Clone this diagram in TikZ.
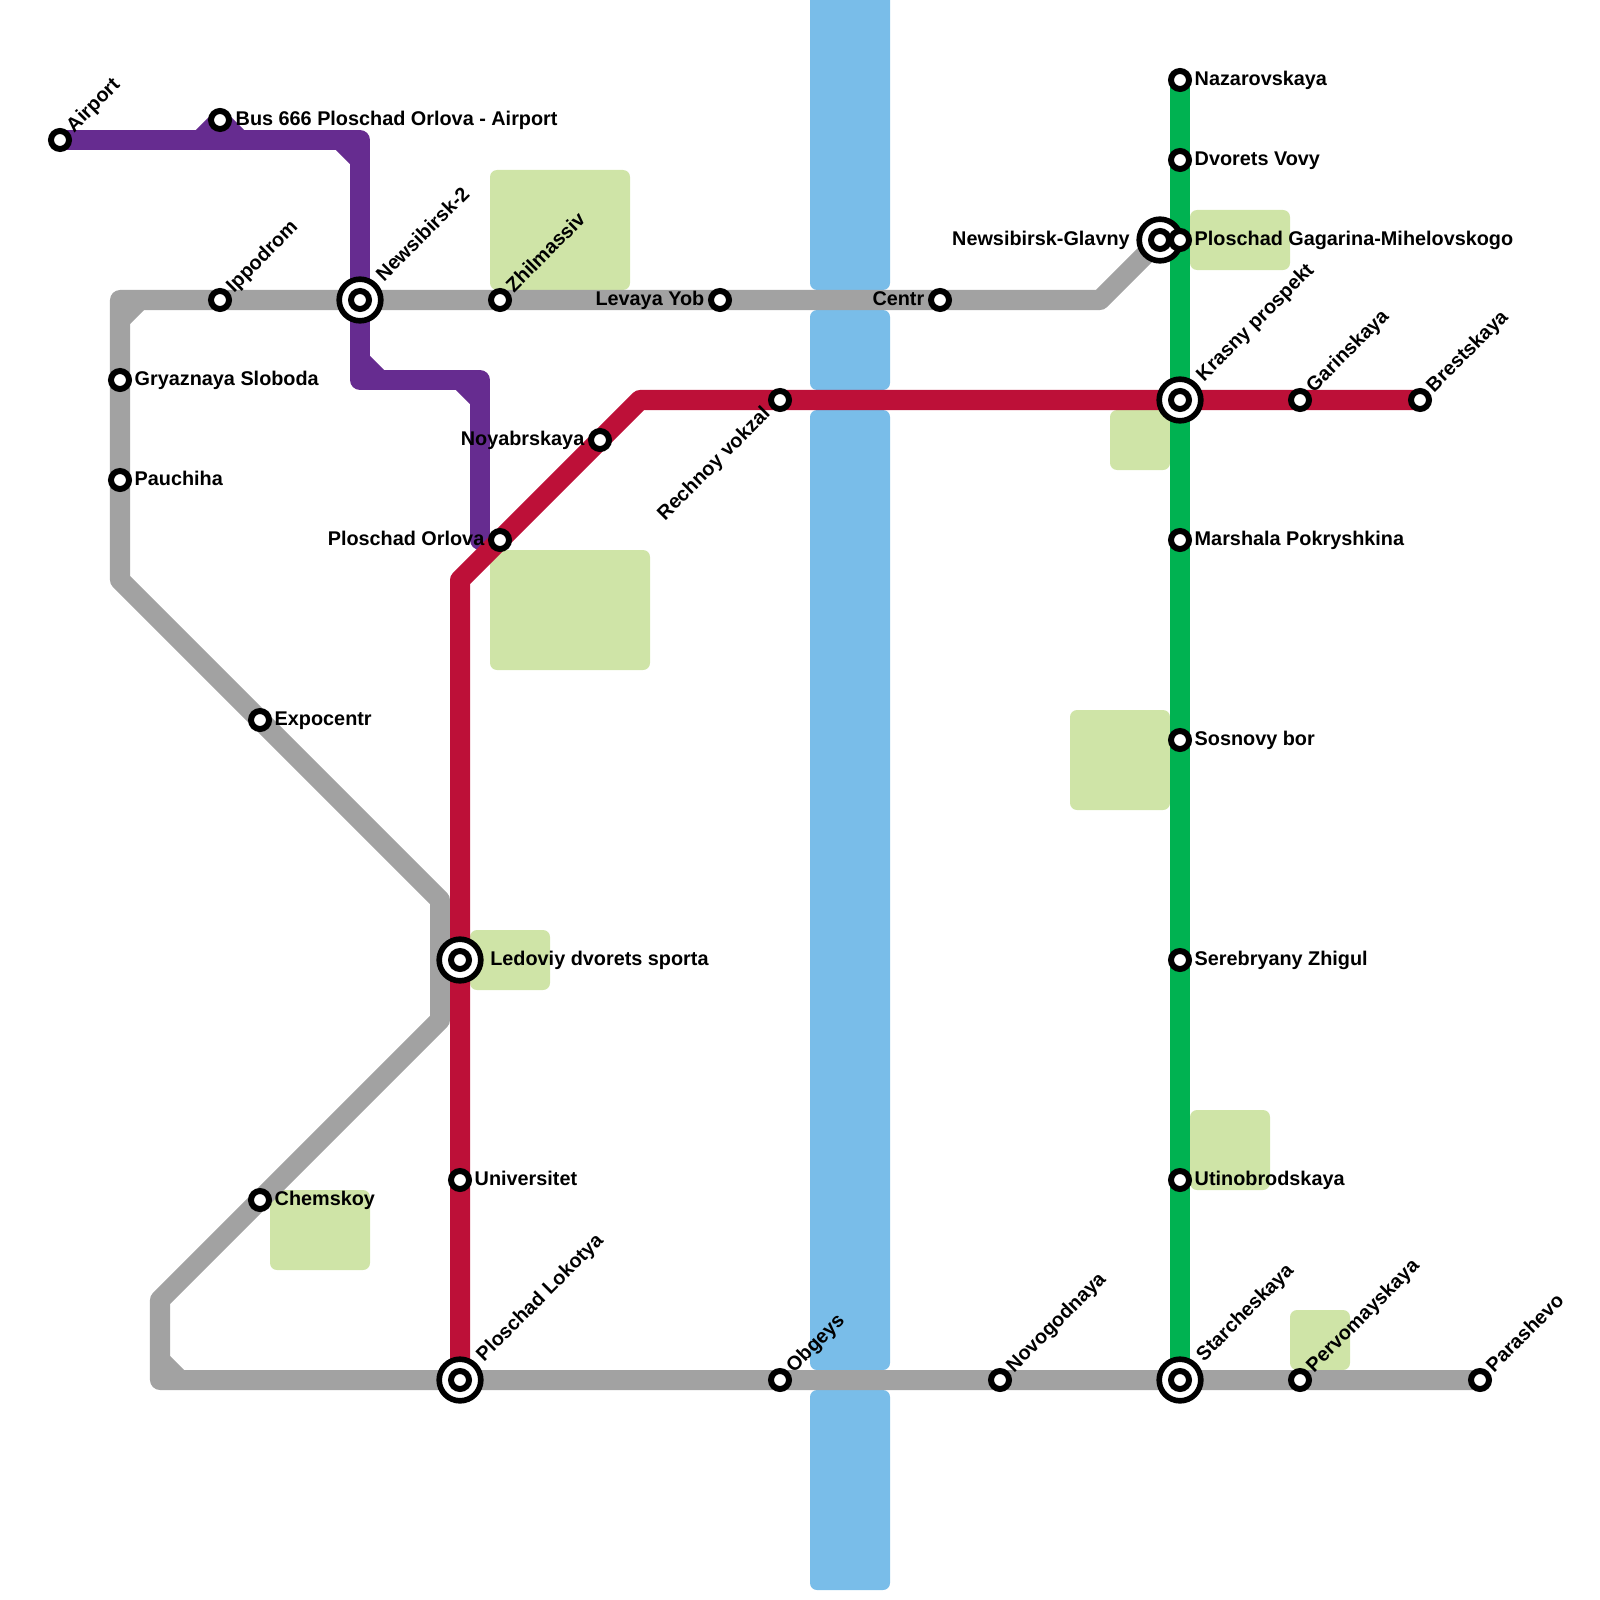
\documentclass[tikz,border=0pt]{standalone}
\usepackage{fontspec}
\setmainfont{Liberation Sans}
\usepackage{xcolor}
\usetikzlibrary{positioning,backgrounds}
\definecolor{linepurple}{HTML}{662C90}
\definecolor{linegrey}{HTML}{A2A2A2}
\definecolor{linered}{HTML}{BD1038}
\definecolor{linegreen}{HTML}{00B251}
\definecolor{riverblue}{HTML}{79BDE9}
\definecolor{parkgreen}{HTML}{CFE4A7}

\begin{document}
\begin{tikzpicture}[x=0.01cm,y=-0.01cm,
  stn/.style={draw,circle,fill=white,line width=1.7pt,inner sep=0pt,minimum size=0.18cm},
  hub/.style={draw,circle,fill=white,line width=1.6pt,inner sep=0pt,minimum size=0.416cm},
  metro/.style={line width=0.2cm,line join=round,line cap=round},
  river/.style={fill=riverblue,rounded corners=0.07cm},
  park/.style={fill=parkgreen,rounded corners=0.07cm},
  lab/.style={inner sep=0pt,text height=0.14cm,text depth=0.04cm,font=\fontsize{5.64}{6}\selectfont\bfseries},
  diag/.style={lab,rotate=45,anchor=west}]
\useasboundingbox (0,0) rectangle (1600,1600);

% purple
\node[stn](airport) at (60,140){};
\node[stn](bus) at (220,120){};
% grey
\node[stn](ippodrom) at (220,300){};
\node[hub](newsib) at (360,300){}; \node[stn](newsibin) at (newsib){};
\node[stn](zhil) at (500,300){};
\node[stn](levaya) at (720,300){};
\node[stn](centr) at (940,300){};
\node[hub](glavny) at (1160,240){}; \node[stn](glavnyin) at (glavny){};
\node[stn](gryaz) at (120,380){};
\node[stn](pauch) at (120,480){};
\node[stn](expo) at (260,720){};
\node[stn](chem) at (260,1200){};
\node[stn](obgeys) at (780,1380){};
\node[stn](novogod) at (1000,1380){};
\node[stn](perv) at (1300,1380){};
\node[stn](parash) at (1480,1380){};
% red
\node[stn](orlova) at (500,540){};
\node[stn](noyabr) at (600,440){};
\node[stn](rechnoy) at (780,400){};
\node[hub](ledov) at (460,960){}; \node[stn](ledovin) at (ledov){};
\node[stn](univer) at (460,1180){};
\node[hub](lokot) at (460,1380){}; \node[stn](lokotin) at (lokot){};
\node[hub](krasny) at (1180,400){}; \node[stn](krasnyin) at (krasny){};
\node[stn](garin) at (1300,400){};
\node[stn](brest) at (1420,400){};
% green
\node[stn](nazar) at (1180,80){};
\node[stn](dvor) at (1180,160){};
\node[stn](gagar) at (1180,240){};
\node[stn](marsh) at (1180,540){};
\node[stn](sosn) at (1180,740){};
\node[stn](sereb) at (1180,960){};
\node[stn](utino) at (1180,1180){};
\node[hub](starch) at (1180,1380){}; \node[stn](starchin) at (starch){};

\begin{pgfonlayer}{background}
% river
\path[river] (810,-20) rectangle (890,290);
\path[river] (810,310) rectangle (890,390);
\path[river] (810,410) rectangle (890,1370);
\path[river] (810,1390) rectangle (890,1590);
% parks
\path[park] (490,170) rectangle (630,290);
\path[park] (1190,210) rectangle (1290,270);
\path[park] (1110,410) rectangle (1170,470);
\path[park] (490,550) rectangle (650,670);
\path[park] (1070,710) rectangle (1170,810);
\path[park] (470,930) rectangle (550,990);
\path[park] (1190,1110) rectangle (1270,1190);
\path[park] (270,1190) rectangle (370,1270);
\path[park] (1290,1310) rectangle (1350,1370);
% lines
\coordinate (p1) at (200,140); \coordinate (p2) at (240,140);
\coordinate (p3) at (360,140); \coordinate (p4) at (360,380);
\coordinate (p5) at (480,380); \coordinate (p6) at (480,540);
\draw[metro,linepurple](airport.center)--(p3)--(newsib.center)--(p4)--(p5)--(p6);
\draw[metro,linepurple](p1)--(bus.center)--(p2);
\draw[metro,line cap=butt,linepurple](340,140)--(360,160);
\draw[metro,line cap=butt,linepurple](360,360)--(380,380);
\draw[metro,line cap=butt,linepurple](460,380)--(480,400);

\coordinate (g1) at (1100,300); \coordinate (g2) at (120,300);
\coordinate (g3) at (120,580); \coordinate (g4) at (440,900);
\coordinate (g5) at (440,1020); \coordinate (g6) at (160,1300);
\coordinate (g7) at (160,1380);
\draw[metro,linegrey](glavny.center)--(g1)--(g2)--(g3)--(g4)--(g5)--(g6)--(g7)--(parash.center);
\draw[metro,line cap=butt,linegrey](140,300)--(120,320);
\draw[metro,line cap=butt,linegrey](160,1360)--(180,1380);

\draw[metro,linegreen](nazar.center)--(starch.center);

\coordinate (r1) at (460,580); \coordinate (r2) at (640,400);
\draw[metro,linered](lokot.center)--(r1)--(r2)--(brest.center);
\end{pgfonlayer}

% labels
\node[diag] at ([shift={(10,-10)}]airport) {Airport};
\node[lab,right=0.03cm of bus] {Bus 666 Ploschad Orlova - Airport};
\node[diag] at ([shift={(10,-10)}]ippodrom) {Ippodrom};
\node[diag] at ([shift={(20,-21)}]newsib) {Newsibirsk-2};
\node[diag] at ([shift={(10,-10)}]zhil) {Zhilmassiv};
\node[lab,left=0.03cm of levaya] {Levaya Yob};
\node[lab,left=0.03cm of centr] {Centr};
\node[lab,left=0.06cm of glavny] {Newsibirsk-Glavny};
\node[lab,right=0.02cm of gryaz] {Gryaznaya Sloboda};
\node[lab,right=0.02cm of pauch] {Pauchiha};
\node[lab,right=0.02cm of expo] {Expocentr};
\node[lab,right=0.02cm of chem] {Chemskoy};
\node[diag] at ([shift={(10,-10)}]obgeys) {Obgeys};
\node[diag] at ([shift={(10,-10)}]novogod) {Novogodnaya};
\node[diag] at ([shift={(10,-10)}]perv) {Pervomayskaya};
\node[diag] at ([shift={(10,-10)}]parash) {Parashevo};
\node[lab,left=0.03cm of orlova] {Ploschad Orlova};
\node[lab,left=0.03cm of noyabr] {Noyabrskaya};
\node[diag,anchor=east] at ([shift={(-12,11)}]rechnoy) {Rechnoy vokzal};
\node[lab,right=0.06cm of ledov] {Ledoviy dvorets sporta};
\node[lab,right=0.02cm of univer] {Universitet};
\node[diag] at ([shift={(20,-21)}]lokot) {Ploschad Lokotya};
\node[diag] at ([shift={(20,-21)}]krasny) {Krasny prospekt};
\node[diag] at ([shift={(10,-10)}]garin) {Garinskaya};
\node[diag] at ([shift={(10,-10)}]brest) {Brestskaya};
\node[lab,right=0.02cm of nazar] {Nazarovskaya};
\node[lab,right=0.02cm of dvor] {Dvorets Vovy};
\node[lab,right=0.02cm of gagar] {Ploschad Gagarina-Mihelovskogo};
\node[lab,right=0.02cm of marsh] {Marshala Pokryshkina};
\node[lab,right=0.02cm of sosn] {Sosnovy bor};
\node[lab,right=0.02cm of sereb] {Serebryany Zhigul};
\node[lab,right=0.02cm of utino] {Utinobrodskaya};
\node[diag] at ([shift={(20,-21)}]starch) {Starcheskaya};
\end{tikzpicture}
\end{document}
